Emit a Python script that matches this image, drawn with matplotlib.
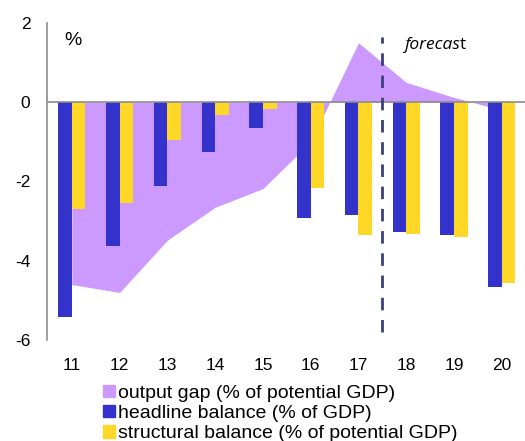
import numpy as np
import matplotlib.pyplot as plt
from matplotlib.patches import Patch

plt.rcParams['font.family'] = ['Liberation Sans', 'DejaVu Sans']

years      = [11, 12, 13, 14, 15, 16, 17, 18, 19, 20]
output_gap = [-4.6, -4.8, -3.48, -2.65, -2.18, -1.0, 1.5, 0.5, 0.12, -0.2]
headline   = [-5.43, -3.64, -2.12, -1.25, -0.66, -2.92, -2.85, -3.28, -3.36, -4.66]
structural = [-2.70, -2.55, -0.96, -0.33, -0.18, -2.16, -3.35, -3.32, -3.39, -4.56]
forecast_at = 17.5

GAP_COLOR = '#cc99ff'
HB_COLOR  = '#3333cc'
SB_COLOR  = '#ffd726'

fig = plt.figure(figsize=(5.25, 4.41), dpi=100)
ax = fig.add_axes([0.0895, 0.229, 0.91, 0.719])

x = np.array(years, dtype=float)
w = 0.285
ax.fill_between(x, 0, output_gap, color=GAP_COLOR, lw=0, zorder=1)
ax.bar(x - w/2, headline,   w, color=HB_COLOR, zorder=2)
ax.bar(x + w/2, structural, w, color=SB_COLOR, zorder=2)
ax.axhline(0, color='#8c8c8c', lw=1.2, zorder=3)
ax.axvline(forecast_at, ymin=(-5.8 + 6) / 8, ymax=(1.65 + 6) / 8,
           color='#3b3f7a', lw=2, dashes=(4.5, 3.5), zorder=4)

ax.set_xlim(10.48, 20.48)
ax.set_ylim(-6, 2)
ax.set_xticks(years)
ax.set_xticklabels([str(y) for y in years])
ax.set_yticks([2, 0, -2, -4, -6])
ax.set_yticklabels(['2', '0', '-2', '-4', '-6'])
ax.tick_params(axis='both', length=0, labelsize=12.5)
ax.tick_params(axis='y', pad=12)
ax.tick_params(axis='x', pad=13)

for s in ['top', 'right', 'bottom']:
    ax.spines[s].set_visible(False)
ax.spines['left'].set_color('#8c8c8c')
ax.spines['left'].set_linewidth(1.2)

ax.text(10.85, 1.55, '%', fontsize=14, ha='left', va='center')
t = ax.text(17.97, 1.45, 'forecas', fontsize=12.5, style='italic',
            family=['Open Sans', 'DejaVu Sans'], ha='left', va='center')
fig.canvas.draw()
bb = t.get_window_extent()
x1 = ax.transData.inverted().transform((bb.x1 - 1, bb.y0))[0]
ax.text(x1, 1.45, 't', fontsize=12.5, family=['Open Sans', 'DejaVu Sans'],
        ha='left', va='center')

handles = [Patch(color=GAP_COLOR), Patch(color=HB_COLOR), Patch(color=SB_COLOR)]
labels = ['output gap (% of potential GDP)', 'headline balance (% of GDP)',
          'structural balance (% of potential GDP)']
fig.legend(handles, labels, loc='upper left', bbox_to_anchor=(0.196, 0.128),
           frameon=False, fontsize=14, handlelength=0.6, handleheight=0.6,
           handletextpad=0.2, labelspacing=0.17, borderpad=0, borderaxespad=0)

fig.savefig('out.png', dpi=100)
